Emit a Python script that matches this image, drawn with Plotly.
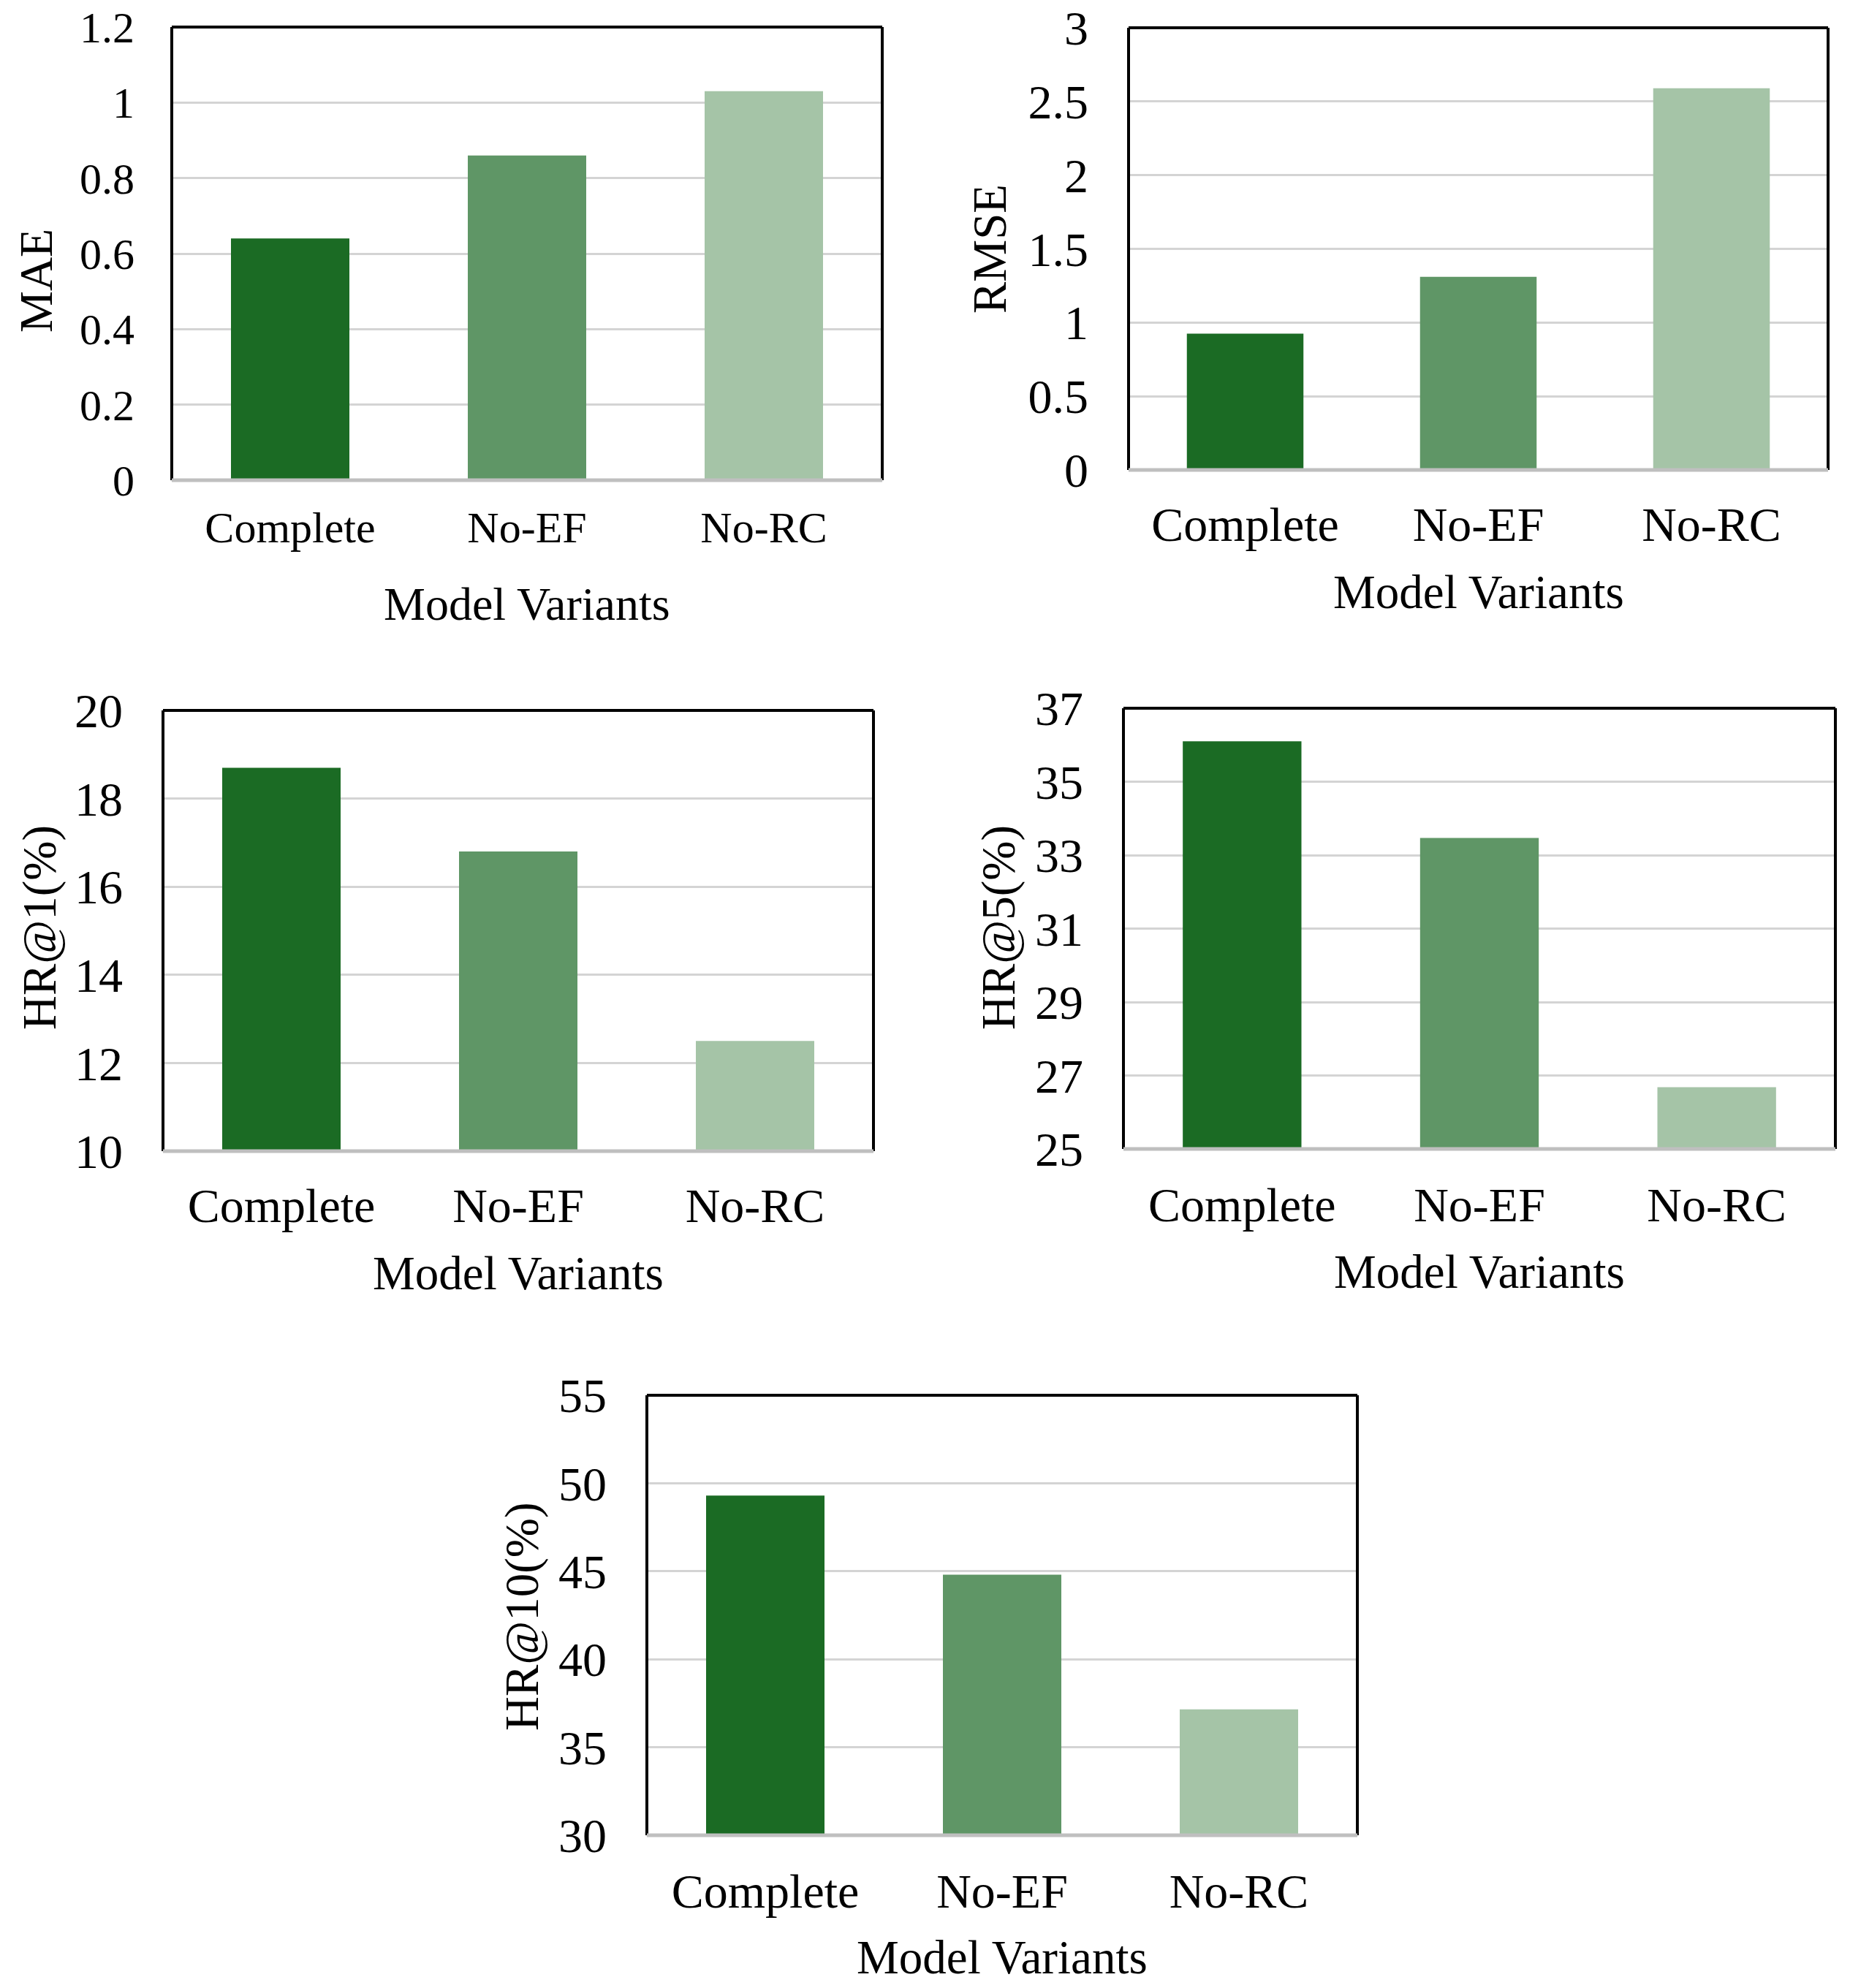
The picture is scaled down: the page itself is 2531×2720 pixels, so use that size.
import plotly.graph_objects as go

# ---------------- data ----------------
categories = ["Complete", "No-EF", "No-RC"]
mae = [0.64, 0.86, 1.03]
rmse = [0.925, 1.31, 2.59]
hr1 = [18.7, 16.8, 12.5]
hr5 = [36.1, 33.47, 26.68]
hr10 = [49.3, 44.8, 37.15]

y_titles = ["MAE", "RMSE", "HR@1(%)", "HR@5(%)", "HR@10(%)"]
x_title = "Model Variants"
y_ranges = [[0, 1.2], [0, 3], [10, 20], [25, 37], [30, 55]]
y_dticks = [0.2, 0.5, 2, 2, 5]
y_tick0 = [0, 0, 10, 25, 30]
series = [mae, rmse, hr1, hr5, hr10]

# ---------------- styling / layout ----------------
W, H = 2531, 2720
OFF = 8  # page body margin of the html page
bar_colors = ["#1b6b24", "#5f9666", "#a5c4a7"]
FONT = "Liberation Serif, Times New Roman, serif"

# plot-area boxes in screen pixels (x0, x1, y0_top, y1_bottom)
boxes = [
    (235, 1207, 37, 657),
    (1544, 2501, 38, 643),
    (223, 1195, 972, 1575),
    (1537, 2511, 969, 1572),
    (885, 1857, 1909, 2511),
]
tick_sizes = [60, 66, 66, 66, 66]
title_sizes = [64, 65, 65, 65, 65]
ytitle_pos = [(50, 384), (1354, 340), (54, 1269), (1366, 1269), (714, 2212)]
xtitle_y = [827, 810, 1742, 1740, 2678]
xtick_standoff = [24, 30, 30, 32, 32]
ytick_standoff = [50, 54, 54, 54, 54]


def px(x):
    return (x - OFF) / W


def py(y):
    return 1 - (y - OFF) / H


fig = go.Figure()
layout = dict(
    template="none",
    width=W, height=H,
    margin=dict(l=0, r=0, t=0, b=0, pad=0, autoexpand=False),
    paper_bgcolor="white", plot_bgcolor="white",
    showlegend=False, bargap=0.5,
    font=dict(family=FONT, color="black"),
)
shapes = []
annotations = []

for i, (vals, box) in enumerate(zip(series, boxes)):
    n = "" if i == 0 else str(i + 1)
    xa, ya = "x" + n, "y" + n
    x0, x1, yt, yb = box
    fig.add_trace(go.Bar(
        x=categories, y=vals, xaxis=xa, yaxis=ya,
        marker=dict(color=bar_colors, line=dict(width=0)),
        hoverinfo="x+y",
    ))
    layout["xaxis" + n] = dict(
        domain=[px(x0), px(x1)], anchor=ya, automargin=False,
        showgrid=False, zeroline=False, showline=False, ticks="",
        tickfont=dict(size=tick_sizes[i], family=FONT, color="black"),
        ticklabelstandoff=xtick_standoff[i], ticklabeloverflow="allow",
        fixedrange=True,
    )
    layout["yaxis" + n] = dict(
        domain=[py(yb), py(yt)], anchor=xa, automargin=False,
        range=y_ranges[i], tick0=y_tick0[i], dtick=y_dticks[i],
        showgrid=True, gridcolor="#d4d4d4", gridwidth=3,
        zeroline=False, showline=False, ticks="",
        tickfont=dict(size=tick_sizes[i], family=FONT, color="black"),
        ticklabelstandoff=ytick_standoff[i], ticklabeloverflow="allow",
        fixedrange=True,
    )
    xd, yd = xa + " domain", ya + " domain"
    # black frame: left, top, right
    for (ax0, ay0, ax1, ay1) in [(0, 0, 0, 1), (0, 1, 1, 1), (1, 0, 1, 1)]:
        shapes.append(dict(type="line", xref=xd, yref=yd, x0=ax0, y0=ay0, x1=ax1, y1=ay1,
                           line=dict(color="black", width=4), layer="above"))
    # gray category axis line at bottom
    shapes.append(dict(type="line", xref=xd, yref=yd, x0=0, y0=0, x1=1, y1=0,
                       line=dict(color="#bfbfbf", width=5), layer="above"))
    # axis titles
    tx, ty = ytitle_pos[i]
    annotations.append(dict(text=y_titles[i], xref="paper", yref="paper",
                            x=px(tx), y=py(ty), xanchor="center", yanchor="middle",
                            textangle=-90, showarrow=False,
                            font=dict(size=title_sizes[i], family=FONT, color="black")))
    annotations.append(dict(text=x_title, xref="paper", yref="paper",
                            x=px((x0 + x1) / 2), y=py(xtitle_y[i]),
                            xanchor="center", yanchor="middle", showarrow=False,
                            font=dict(size=title_sizes[i], family=FONT, color="black")))

layout["shapes"] = shapes
layout["annotations"] = annotations
fig.update_layout(**layout)
fig.write_html("out.html")
